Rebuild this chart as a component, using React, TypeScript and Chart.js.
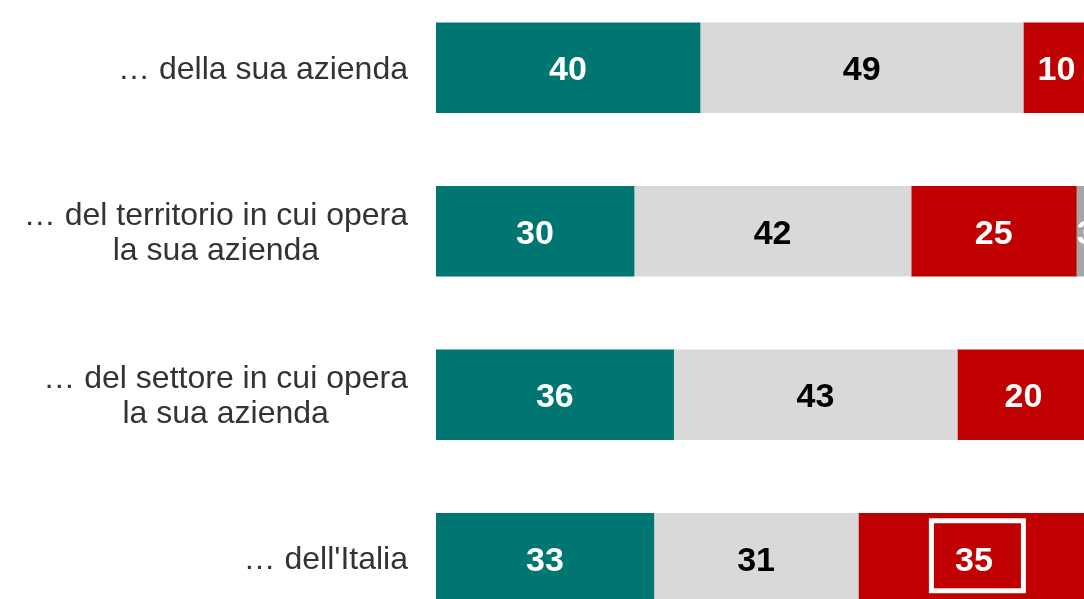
import React, { useEffect, useRef } from "react";
import { Chart, registerables } from "chart.js";

Chart.register(...registerables);

const categories: (string | string[])[] = [
  "… della sua azienda",
  ["… del territorio in cui opera", "la sua azienda"],
  ["… del settore in cui opera", "la sua azienda"],
  "… dell'Italia",
];
const positive = [40, 30, 36, 33];
const neutral = [49, 42, 43, 31];
const negative = [10, 25, 20, 35];
const noAnswer = [1, 3, 1, 1];

const FONT = "'Liberation Sans', Arial, Helvetica, sans-serif";

const labelPlugin = {
  id: "barLabels",
  afterDatasetsDraw(chart: any) {
    const ctx = chart.ctx;
    ctx.save();
    ctx.font = `bold 34px ${FONT}`;
    ctx.textAlign = "center";
    ctx.textBaseline = "middle";
    chart.data.datasets.forEach((ds: any, di: number) => {
      const meta = chart.getDatasetMeta(di);
      meta.data.forEach((el: any, i: number) => {
        const v = ds.data[i];
        if (v < 2) return;
        const cx = (el.x + el.base) / 2;
        ctx.fillStyle = ds.labelColor;
        ctx.fillText(String(v), cx, el.y + 3);
        if (ds.highlight === i) {
          ctx.strokeStyle = "#ffffff";
          ctx.lineWidth = 5;
          ctx.strokeRect(cx + 3.5 - 46, el.y - 2.5 - 35, 92, 70);
        }
      });
    });
    // category labels: block right-aligned, lines centred within block
    const yScale = chart.scales.y;
    ctx.font = `32px ${FONT}`;
    ctx.fillStyle = "#333333";
    ctx.textBaseline = "middle";
    ctx.textAlign = "center";
    const right = yScale.right - 28;
    const lineH = 35;
    chart.data.labels.forEach((lab: any, i: number) => {
      const lines: string[] = Array.isArray(lab) ? lab : [lab];
      const maxW = Math.max(...lines.map((l) => ctx.measureText(l).width));
      const cx = right - maxW / 2;
      const y0 = yScale.getPixelForTick(i) + 2 - ((lines.length - 1) * lineH) / 2;
      lines.forEach((l, k) => ctx.fillText(l, cx, y0 + k * lineH));
    });
    ctx.restore();
  },
};

export default function App() {
  const ref = useRef<HTMLCanvasElement>(null);
  useEffect(() => {
    if (!ref.current) return;
    const chart = new Chart(ref.current, {
      type: "bar",
      data: {
        labels: categories as any,
        datasets: [
          { data: positive, backgroundColor: "#007672", labelColor: "#ffffff" } as any,
          { data: neutral, backgroundColor: "#d9d9d9", labelColor: "#000000" } as any,
          { data: negative, backgroundColor: "#c00000", labelColor: "#ffffff", highlight: 3 } as any,
          { data: noAnswer, backgroundColor: "#a6a6a6", labelColor: "#ffffff" } as any,
        ],
      },
      options: {
        indexAxis: "y",
        responsive: false,
        animation: false,
        layout: { padding: 0 },
        datasets: { bar: { barThickness: 90, borderWidth: 0 } },
        plugins: { legend: { display: false }, tooltip: { enabled: false } },
        scales: {
          x: { stacked: true, min: 0, max: 100, display: false },
          y: {
            stacked: true,
            grid: { display: false, drawTicks: false },
            border: { display: false },
            ticks: { display: false },
            afterFit(scale: any) {
              scale.width = 436;
              scale.paddingTop = 0;
              scale.paddingBottom = 0;
            },
          },
        },
      },
      plugins: [labelPlugin],
    });
    return () => chart.destroy();
  }, []);
  return (
    <div
      style={{
        position: "fixed",
        left: 0,
        top: 0,
        width: 1084,
        height: 599,
        overflow: "hidden",
        background: "#ffffff",
      }}
    >
      <canvas
        ref={ref}
        width={1096}
        height={654}
        style={{ position: "absolute", left: 0, top: -14, width: 1096, height: 654 }}
      />
    </div>
  );
}
